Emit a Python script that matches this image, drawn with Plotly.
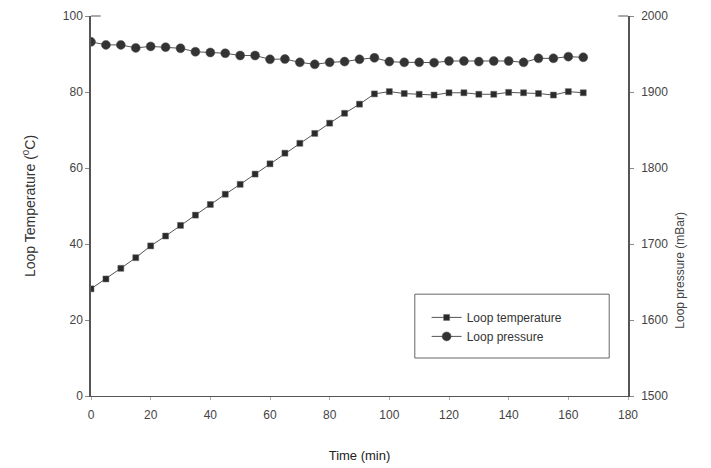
import plotly.graph_objects as go

time_min = [0, 5, 10, 15, 20, 25, 30, 35, 40, 45, 50, 55, 60, 65, 70, 75, 80, 85,
            90, 95, 100, 105, 110, 115, 120, 125, 130, 135, 140, 145, 150, 155, 160, 165]

loop_temperature = [28.2, 30.8, 33.6, 36.4, 39.5, 42.1, 44.9, 47.6, 50.4, 53.1,
                    55.7, 58.4, 61.1, 63.9, 66.5, 69.1, 71.8, 74.4, 76.8, 79.5,
                    80.1, 79.6, 79.4, 79.2, 79.8, 79.8, 79.4, 79.4, 79.9, 79.8,
                    79.6, 79.2, 80.1, 79.8]

loop_pressure = [1966, 1962, 1962, 1958, 1960, 1959, 1957.5, 1953, 1952, 1951,
                 1948, 1948, 1943, 1943.4, 1939, 1936.4, 1939, 1940, 1943, 1945,
                 1940, 1939, 1939, 1938.6, 1940.8, 1940.8, 1940, 1940.8, 1940.8, 1939,
                 1944.3, 1944.3, 1946.5, 1945.6]

x_ticks = [0, 20, 40, 60, 80, 100, 120, 140, 160, 180]
temp_ticks = [0, 20, 40, 60, 80, 100]
pres_ticks = [1500, 1600, 1700, 1800, 1900, 2000]

font_family = "Liberation Sans, Arial, sans-serif"
axis_col = "#555555"
tick_font = dict(family=font_family, size=12, color="#444444")

fig = go.Figure()
fig.add_trace(go.Scatter(
    x=time_min, y=loop_temperature, name="Loop temperature",
    mode="lines+markers",
    line=dict(color="#555555", width=1),
    marker=dict(symbol="square", size=6, color="#2a2a2a",
                line=dict(color="#666666", width=0.5)),
    yaxis="y",
))
fig.add_trace(go.Scatter(
    x=time_min, y=loop_pressure, name="Loop pressure",
    mode="lines+markers",
    line=dict(color="#555555", width=1),
    marker=dict(symbol="circle", size=9, color="#333333",
                line=dict(color="#555555", width=0.5)),
    yaxis="y2",
))

fig.update_layout(
    width=711, height=468,
    margin=dict(l=83, r=91, t=8, b=80),
    paper_bgcolor="white", plot_bgcolor="white",
    showlegend=True,
    legend=dict(
        x=0.625, y=0.245, xanchor="left", yanchor="top",
        bgcolor="rgba(0,0,0,0)", borderwidth=0,
        font=dict(family=font_family, size=12, color="#333333"),
        tracegroupgap=0,
    ),
    xaxis=dict(
        range=[0, 180], tickvals=x_ticks, showgrid=False, zeroline=False,
        automargin=False,
        showline=True, linecolor=axis_col, linewidth=1.2,
        ticks="outside", ticklen=3, tickcolor="#aaaaaa",
        ticklabelstandoff=4,
        tickfont=tick_font,
        title=dict(text="Time (min)", standoff=30,
                   font=dict(family=font_family, size=13, color="#222222")),
    ),
    yaxis=dict(
        range=[0, 100], tickvals=temp_ticks, showgrid=False, zeroline=False,
        automargin=False,
        showline=True, linecolor=axis_col, linewidth=1.5,
        ticks="outside", ticklen=4, tickcolor="#888888",
        tickfont=tick_font,
        title=dict(text="Loop Temperature (<sup>0</sup>C)", standoff=24,
                   font=dict(family=font_family, size=14, color="#333333")),
    ),
    yaxis2=dict(
        range=[1500, 2000], tickvals=pres_ticks, overlaying="y", side="right",
        showgrid=False, zeroline=False, automargin=False,
        showline=True, linecolor=axis_col, linewidth=1.5,
        ticks="outside", ticklen=4, tickcolor="#888888",
        ticklabelstandoff=5,
        tickfont=dict(family=font_family, size=12, color="#444444"),
    ),
    annotations=[
        dict(text="Loop pressure (mBar)", xref="paper", yref="paper",
             x=1.097, y=0.33, xanchor="center", yanchor="middle",
             textangle=-90, showarrow=False,
             font=dict(family=font_family, size=12, color="#444444")),
    ],
    shapes=[
        dict(type="rect", xref="paper", yref="paper",
             x0=0.603, x1=0.965, y0=0.10, y1=0.268,
             line=dict(color="#666666", width=1), fillcolor="rgba(0,0,0,0)",
             layer="below"),
        dict(type="line", xref="paper", yref="paper",
             x0=0, x1=0.018, y0=1, y1=1,
             line=dict(color=axis_col, width=1)),
        dict(type="line", xref="paper", yref="paper",
             x0=0.982, x1=1, y0=1, y1=1,
             line=dict(color=axis_col, width=1)),
    ],
)

fig.write_html("out.html")
